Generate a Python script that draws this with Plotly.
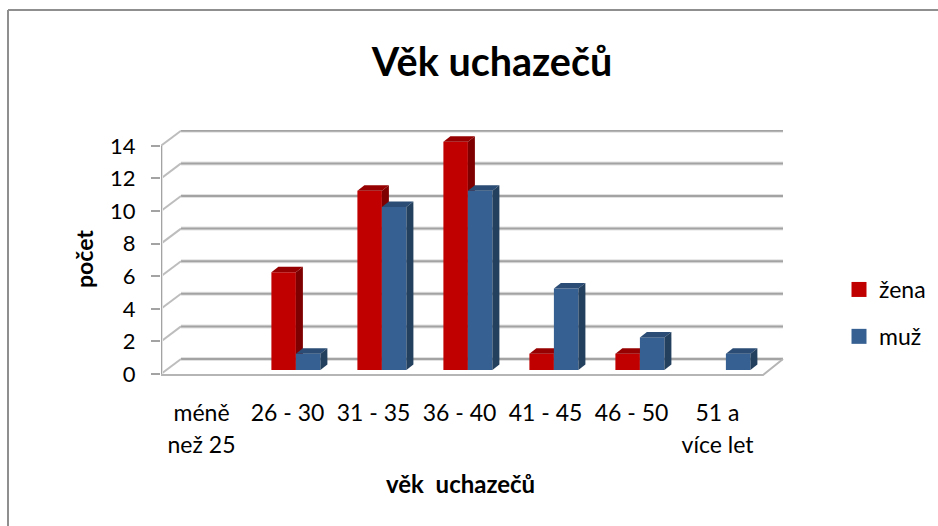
import plotly.graph_objects as go

categories_line1 = ["méně", "26 - 30", "31 - 35", "36 - 40", "41 - 45", "46 - 50", "51 a"]
categories_line2 = ["než 25", "", "", "", "", "", "více let"]
zena = [0, 6, 11, 14, 1, 1, 0]
muz = [0, 1, 10, 11, 5, 2, 1]
y_ticks = [0, 2, 4, 6, 8, 10, 12, 14]

W, H = 938, 526
L, R, T, B = 161, 785, 130, 376
PX_X = 86.0
PX_Y = 16.3
xr = [-0.5, -0.5 + (R - L) / PX_X]
yr = [-(B - 374) / PX_Y, (374 - T) / PX_Y]
FONT = "Lato"
RED, RED_TOP, RED_SIDE = "#c00000", "#960000", "#7f0000"
BLUE, BLUE_TOP, BLUE_SIDE = "#376092", "#2b4c74", "#24405f"
GRID = "#a3a3a3"
FRAME = "#8f8f8f"

wall_dx, wall_dy = 20 / PX_X, 15 / PX_Y
bar_w = 24.5 / PX_X
shift = 5.9 / PX_X
bar_dx, bar_dy = 7 / PX_X, 5.5 / PX_Y
base = 4 / PX_Y
label_shift = -2.5 / PX_X

fig = go.Figure()


def line(xs, ys, color=GRID, width=2):
    fig.add_trace(go.Scatter(x=xs, y=ys, mode="lines", line=dict(color=color, width=width),
                             showlegend=False, hoverinfo="skip", cliponaxis=False,
                             xaxis="x", yaxis="y"))


x0, x1 = -0.5, 6.5
for v in y_ticks:
    line([x0 + wall_dx, x1 + wall_dx], [v + wall_dy, v + wall_dy], "#e2e2e2", 4)
    line([x0 + wall_dx, x1 + wall_dx], [v + wall_dy, v + wall_dy])
    line([x0, x0 + wall_dx], [v, v + wall_dy], "#bdbdbd", 2)
line([x0, x0], [0, 14], "#e2e2e2", 4)
line([x0, x0], [0, 14])
line([x0, x1, x1 + wall_dx], [-0.06, -0.06, wall_dy], "#b5b5b5", 2)


def faces(vals, left, top_c, side_c, ax):
    xa, ya = ax
    for i, v in enumerate(vals):
        if not v:
            continue
        a = i + left
        b = a + bar_w
        t = base + v
        fig.add_trace(go.Scatter(x=[a, a + bar_dx, b + bar_dx, b, a],
                                 y=[t, t + bar_dy, t + bar_dy, t, t],
                                 fill="toself", fillcolor=top_c, mode="none",
                                 showlegend=False, hoverinfo="skip", xaxis=xa, yaxis=ya))
        fig.add_trace(go.Scatter(x=[b, b + bar_dx, b + bar_dx, b, b],
                                 y=[t, t + bar_dy, base + bar_dy, base, t],
                                 fill="toself", fillcolor=side_c, mode="none",
                                 showlegend=False, hoverinfo="skip", xaxis=xa, yaxis=ya))


idx = list(range(len(categories_line1)))
label_pos = [i + label_shift for i in idx]
fig.add_trace(go.Bar(x=idx, y=zena, base=base, width=bar_w, offset=shift - bar_w,
                     marker=dict(color=RED, line=dict(width=0)), showlegend=False,
                     xaxis="x2", yaxis="y2"))
faces(zena, shift - bar_w, RED_TOP, RED_SIDE, ("x2", "y2"))
fig.add_trace(go.Bar(x=idx, y=muz, base=base, width=bar_w, offset=shift,
                     marker=dict(color=BLUE, line=dict(width=0)), showlegend=False,
                     xaxis="x3", yaxis="y3"))
faces(muz, shift, BLUE_TOP, BLUE_SIDE, ("x3", "y3"))

for name, col in (("žena", RED), ("muž", BLUE)):
    fig.add_trace(go.Scatter(x=[None], y=[None], mode="markers", name=name, legendgroup=name,
                             marker=dict(symbol="square", size=15, color=col)))

fig.update_layout(
    width=W, height=H, margin=dict(l=L, r=W - R, t=T, b=H - B),
    paper_bgcolor="white", plot_bgcolor="white", barmode="overlay",
    font=dict(family=FONT, size=22, color="#000000"),
    title=dict(text="<b>Věk uchazečů</b>", x=492 / W, xanchor="center", y=1 - 62 / H, yanchor="middle",
               font=dict(family=FONT, size=39.5)),
    xaxis=dict(range=xr, tickmode="array", tickvals=label_pos, ticktext=categories_line1, ticks="",
               showgrid=False, zeroline=False, showline=False, ticklabelstandoff=21, tickfont=dict(size=23)),
    yaxis=dict(range=yr, tickmode="array", tickvals=y_ticks, ticks="outside", ticklen=9, tickcolor=GRID,
               tickwidth=1.5, showgrid=False, zeroline=False, showline=False, ticklabelstandoff=11),
    xaxis2=dict(range=xr, overlaying="x", visible=False),
    yaxis2=dict(range=yr, overlaying="y", visible=False),
    xaxis3=dict(range=xr, overlaying="x", tickmode="array", tickvals=label_pos, ticktext=categories_line2, ticks="",
                showgrid=False, zeroline=False, showline=False, side="bottom", ticklabelstandoff=53,
                tickfont=dict(size=23)),
    yaxis3=dict(range=yr, overlaying="y", visible=False),
    legend=dict(x=839 / W, xanchor="left", y=1 - 268 / H, yanchor="top", xref="container", yref="container",
                tracegroupgap=14, font=dict(size=23), bgcolor="rgba(0,0,0,0)"),
    shapes=[dict(type="line", xref="paper", yref="paper",
                 x0=(8 - L) / (R - L), x1=(8 - L) / (R - L), y0=(B - H) / (B - T), y1=(B - 10) / (B - T),
                 line=dict(color=FRAME, width=2), layer="below"),
            dict(type="line", xref="paper", yref="paper",
                 x0=(8 - L) / (R - L), x1=(W - L) / (R - L), y0=(B - 10) / (B - T), y1=(B - 10) / (B - T),
                 line=dict(color=FRAME, width=2), layer="below")],
    annotations=[
        dict(text="<b>počet</b>", xref="paper", yref="paper", x=(84 - L) / (R - L), y=(B - 259) / (B - T),
             xanchor="center", yanchor="middle", textangle=-90, showarrow=False, font=dict(size=23)),
        dict(text="<b>věk  uchazečů</b>", xref="paper", yref="paper", x=(460 - L) / (R - L), y=(B - 483) / (B - T),
             xanchor="center", yanchor="middle", showarrow=False, font=dict(size=24)),
    ],
)
fig.write_html("out.html", post_script="document.body.style.margin='0';", config=dict(displayModeBar=False))
